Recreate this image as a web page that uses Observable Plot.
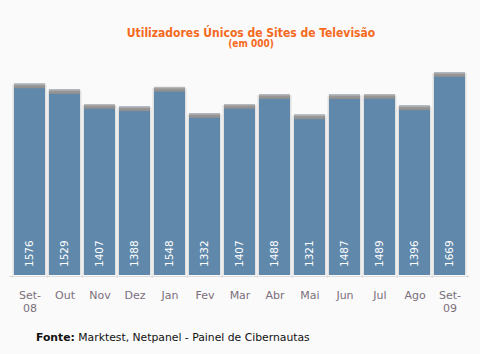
<!DOCTYPE html>
<html>
<head>
<meta charset="utf-8">
<script src="https://cdn.jsdelivr.net/npm/d3@7"></script>
<script src="https://cdn.jsdelivr.net/npm/@observablehq/plot@0.6"></script>
<style>
  html, body { margin: 0; padding: 0; background: #fafafa; }
  #chart { width: 480px; height: 354px; overflow: hidden; }
</style>
</head>
<body>
<div id="chart"></div>
<script>
const months = ["Set-\n08", "Out", "Nov", "Dez", "Jan", "Fev", "Mar", "Abr", "Mai", "Jun", "Jul", "Ago", "Set-\n09"];
const values = [1576, 1529, 1407, 1388, 1548, 1332, 1407, 1488, 1321, 1487, 1489, 1396, 1669];
const title = "Utilizadores Únicos de Sites de Televisão";
const subtitle = "(em 000)";
const sourceLabel = "Fonte:";
const sourceText = " Marktest, Netpanel - Painel de Cibernautas";

const data = months.map((m, i) => ({month: m, value: values[i]}));
const font = "'DejaVu Sans', Verdana, sans-serif";
const step = 460 / 13;

const svg = Plot.plot({
  width: 480,
  height: 354,
  marginTop: 32,
  marginBottom: 79,
  marginLeft: 9,
  marginRight: 11,
  style: {background: "transparent", fontFamily: font, overflow: "visible"},
  x: {domain: months, paddingInner: 0.12, paddingOuter: 0.06, axis: null},
  y: {domain: [0, 2000], axis: null},
  marks: [
    Plot.barY(data, {x: "month", y: "value", fill: "#e0e0e0", insetLeft: -1.5, insetRight: -1.5, insetTop: 1}),
    Plot.barY(data, {x: "month", y: "value", fill: "#5f88ab"}),
    Plot.barY(data, {x: "month", y1: d => d.value - 39, y2: "value", fill: "url(#capGrad)"}),
    Plot.ruleY([0], {stroke: "#dddddd", dy: 1}),
    Plot.ruleX(months, {x: d => d, y1: 0, y2: -25, dx: -step / 2, stroke: "#dddddd"}),
    Plot.ruleX([months[months.length - 1]], {x: d => d, y1: 0, y2: -25, dx: step / 2, stroke: "#dddddd"}),
    Plot.text(data, {x: "month", y: 0, text: d => String(d.value), rotate: -90, textAnchor: "start", lineAnchor: "middle", dy: -8.5, fill: "white", fontSize: 10.5}),
    Plot.text(data, {x: "month", y: 0, text: "month", lineAnchor: "top", lineHeight: 1.15, dy: 15, fill: "#7a6f7a", fontSize: 11})
  ]
});

const s = d3.select(svg);
s.insert("defs", ":first-child").html(
  `<linearGradient id="capGrad" x1="0" y1="0" x2="0" y2="1">
     <stop offset="0" stop-color="#c4c4c4"/>
     <stop offset="0.45" stop-color="#979797"/>
     <stop offset="1" stop-color="#8e8e8e"/>
   </linearGradient>`);

s.append("text").attr("x", 251).attr("y", 36.7).attr("text-anchor", "middle")
  .attr("fill", "#f5691c").attr("font-weight", "bold").attr("font-size", 12)
  .attr("font-family", "'DejaVu Sans Condensed', 'Liberation Sans', sans-serif").text(title);
s.append("text").attr("x", 251).attr("y", 47.3).attr("text-anchor", "middle")
  .attr("fill", "#f5691c").attr("font-weight", "bold").attr("font-size", 10)
  .attr("font-family", "'DejaVu Sans Condensed', 'Liberation Sans', sans-serif").text(subtitle);

const foot = s.append("text").attr("x", 36).attr("y", 341).attr("text-anchor", "start")
  .attr("fill", "#111").attr("font-size", 10.8)
  .attr("font-family", "'DejaVu Sans', Verdana, sans-serif");
foot.append("tspan").attr("font-weight", "bold").text(sourceLabel);
foot.append("tspan").text(sourceText);

document.getElementById("chart").appendChild(svg);
</script>
</body>
</html>
